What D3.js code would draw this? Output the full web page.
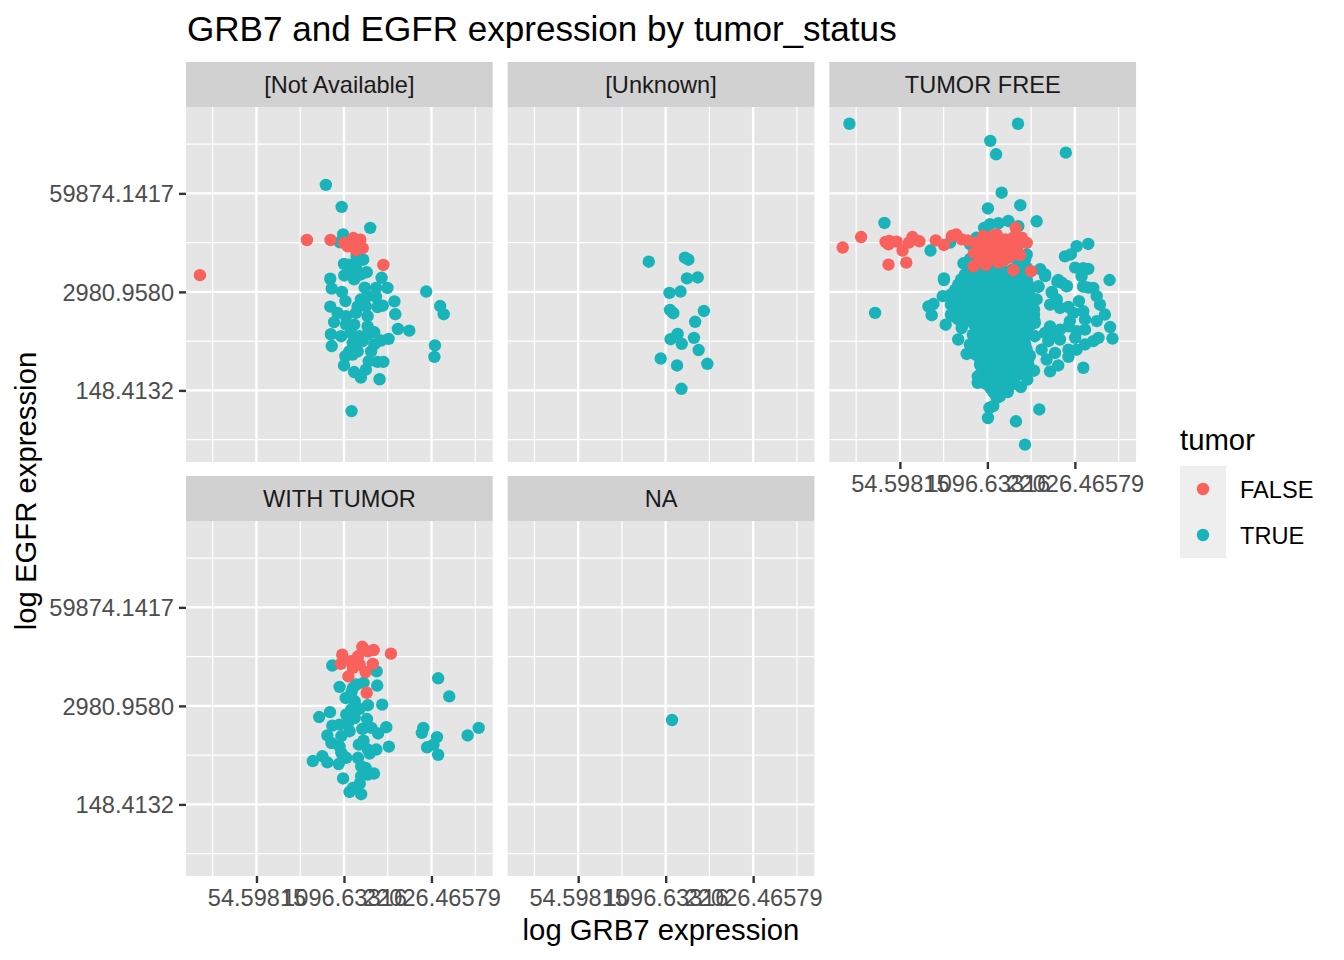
<!DOCTYPE html>
<html>
<head>
<meta charset="utf-8">
<script src="https://cdnjs.cloudflare.com/ajax/libs/d3/7.8.5/d3.min.js"></script>
<style>
  html, body { margin: 0; padding: 0; background: #fff; }
  text { font-family: "Liberation Sans", Arial, sans-serif; }
</style>
</head>
<body>
<div id="chart"></div>
<script>
// values are natural logs of the expression: [log GRB7, log EGFR]
const xTicks = [4, 7, 10];
const xTickLabels = ["54.59815", "1096.63316", "22026.46579"];
const xMinor = [2.5, 5.5, 8.5, 11.5];
const yTicks = [5, 8, 11];
const yTickLabels = ["148.4132", "2980.9580", "59874.1417"];
const yMinor = [3.5, 6.5, 9.5, 12.5];
const tumorLevels = ["FALSE", "TRUE"];

const notAvailableTrue = [[6.38,11.26],[6.92,10.59],[7.90,9.95],[6.97,9.75],[6.86,9.51],[7.66,8.98],[7.43,9.09],[7.00,8.85],[7.18,8.83],[7.41,8.73],[7.01,8.50],[7.24,8.58],[7.35,8.38],[7.58,8.53],[7.78,8.60],[8.29,8.43],[6.53,8.40],[6.58,8.10],[6.93,8.00],[7.71,8.13],[8.10,8.12],[8.49,8.12],[9.82,8.01],[10.30,7.57],[10.42,7.32],[8.73,7.71],[8.76,7.32],[8.85,6.87],[9.24,6.82],[10.12,6.37],[10.10,6.02],[6.53,7.55],[7.05,7.72],[6.78,7.36],[6.66,7.08],[7.58,7.77],[7.81,7.87],[8.10,7.85],[7.47,7.56],[7.75,7.56],[8.15,7.54],[8.33,7.58],[7.07,7.26],[7.41,7.36],[7.81,7.26],[7.35,7.00],[7.81,6.95],[7.07,7.00],[6.55,6.71],[6.90,6.65],[7.24,6.75],[7.53,6.65],[7.81,6.70],[8.04,6.77],[7.30,6.45],[7.64,6.50],[6.58,6.35],[8.53,6.57],[8.27,6.52],[8.04,6.40],[7.93,6.19],[7.18,6.19],[7.47,6.19],[7.05,6.04],[7.30,6.09],[7.85,5.89],[8.15,5.87],[8.35,5.87],[7.00,5.76],[7.35,5.56],[7.75,5.63],[7.58,5.39],[8.22,5.34],[7.26,4.37]];
const notAvailableFalse = [[2.06,8.51],[5.73,9.58],[6.54,9.58],[7.01,9.49],[7.13,9.39],[7.32,9.64],[7.56,9.59],[7.35,9.49],[7.41,9.27],[7.64,9.33],[7.47,9.39],[8.35,8.82]];

const unknownTrue = [[6.42,8.92],[7.66,9.04],[7.78,8.98],[7.73,8.41],[8.10,8.44],[7.13,7.97],[7.51,8.01],[7.15,7.45],[7.26,7.35],[8.31,7.42],[8.01,7.09],[7.41,6.72],[7.17,6.56],[7.55,6.42],[7.97,6.60],[8.13,6.23],[6.83,5.97],[7.39,5.76],[8.43,5.81],[7.54,5.05]];

const tumorFreeTrue = [
  [2.27,13.12],[8.05,13.12],[7.10,12.60],[7.30,12.19],[9.69,12.24],[7.49,11.02],[7.02,10.54],[8.13,10.64],[3.47,10.10],[8.69,10.15],[7.72,10.16],[7.38,10.09],[7.09,10.06],[6.89,9.95],[8.06,10.00],[5.05,9.26],[5.72,9.50],[5.51,8.36],[10.06,9.39],[10.46,9.46],[9.66,9.08],[9.86,9.14],[10.01,8.74],[10.29,8.72],[10.46,8.70],[10.23,8.48],[11.19,8.36],[8.81,8.69],[8.98,8.48],[9.40,8.31],[9.55,8.28],[9.72,8.18],[8.75,8.15],[9.21,7.97],[10.29,8.16],[8.35,9.14],[6.18,8.87],[6.12,8.25],[6.41,9.45],[6.63,9.65],[8.35,8.74],[6.23,8.53],[10.46,8.13],
  [6.40,9.00],[6.80,9.00],[7.20,9.00],[7.60,9.00],[8.00,9.00],[8.30,9.00],
  [6.45,8.68],[6.80,8.68],[7.15,8.68],[7.50,8.68],[7.85,8.68],[8.15,8.68],
  [6.30,8.53],[6.65,8.53],[7.00,8.53],[7.35,8.53],[7.70,8.53],[8.05,8.53],[8.30,8.53],
  [6.10,8.38],[6.45,8.38],[6.80,8.38],[7.15,8.38],[7.50,8.38],[7.85,8.38],[8.20,8.38],[8.35,8.38],
  [6.00,8.22],[6.30,8.22],[6.65,8.22],[7.00,8.22],[7.35,8.22],[7.70,8.22],[8.05,8.22],[8.40,8.22],
  [5.90,8.07],[6.25,8.07],[6.60,8.07],[6.95,8.07],[7.30,8.07],[7.65,8.07],[8.00,8.07],[8.40,8.07],
  [5.75,7.92],[6.10,7.92],[6.45,7.92],[6.80,7.92],[7.15,7.92],[7.50,7.92],[7.85,7.92],[8.20,7.92],[8.45,7.92],
  [5.85,7.77],[6.20,7.77],[6.55,7.77],[6.90,7.77],[7.25,7.77],[7.60,7.77],[7.95,7.77],[8.30,7.77],[8.55,7.77],
  [5.75,7.61],[6.05,7.61],[6.40,7.61],[6.75,7.61],[7.10,7.61],[7.45,7.61],[7.80,7.61],[8.15,7.61],[8.50,7.61],
  [5.90,7.46],[6.25,7.46],[6.60,7.46],[6.95,7.46],[7.30,7.46],[7.65,7.46],[8.00,7.46],[8.35,7.46],[8.60,7.46],
  [5.75,7.31],[6.10,7.31],[6.45,7.31],[6.80,7.31],[7.15,7.31],[7.50,7.31],[7.85,7.31],[8.20,7.31],[8.60,7.31],
  [6.00,7.16],[6.35,7.16],[6.70,7.16],[7.05,7.16],[7.40,7.16],[7.75,7.16],[8.10,7.16],[8.45,7.16],[8.60,7.16],
  [6.15,7.00],[6.55,7.00],[6.85,7.00],[7.20,7.00],[7.55,7.00],[7.90,7.00],[8.25,7.00],[8.50,7.00],
  [6.12,6.90],[6.70,6.85],[7.00,6.85],[7.35,6.85],[7.70,6.85],[8.05,6.85],[8.35,6.85],
  [6.50,6.70],[6.75,6.70],[7.10,6.70],[7.45,6.70],[7.80,6.70],[8.10,6.70],[8.35,6.70],
  [6.55,6.55],[6.90,6.55],[7.25,6.55],[7.60,6.55],[7.95,6.55],[8.25,6.55],
  [6.40,6.40],[6.70,6.40],[7.05,6.40],[7.40,6.40],[7.75,6.40],[8.10,6.40],[8.30,6.40],
  [6.55,6.24],[6.90,6.24],[7.25,6.24],[7.60,6.24],[7.95,6.24],[8.35,6.24],
  [6.60,6.09],[6.90,6.09],[7.25,6.09],[7.60,6.09],[7.95,6.09],[8.30,6.09],
  [6.75,5.94],[7.10,5.94],[7.45,5.94],[7.80,5.94],[8.15,5.94],[8.40,5.94],
  [6.75,5.78],[7.00,5.78],[7.35,5.78],[7.70,5.78],[8.05,5.78],[8.40,5.78],
  [6.85,5.63],[7.20,5.63],[7.55,5.63],[7.90,5.63],[8.25,5.63],
  [6.80,5.48],[7.05,5.48],[7.40,5.48],[7.75,5.48],[8.05,5.48],
  [6.67,5.23],[6.67,5.43],[6.90,5.33],[7.20,5.33],[7.55,5.33],[7.90,5.33],
  [6.95,5.20],[7.25,5.20],[7.60,5.20],[7.95,5.20],
  [7.10,5.08],[7.40,5.08],[7.70,5.08],[8.15,5.10],[8.37,5.33],[8.60,5.60],
  [7.20,4.95],[7.50,4.95],[7.70,4.95],
  [7.32,4.77],[7.43,4.82],[7.20,4.52],[7.07,4.47],[7.02,4.16],[7.98,4.06],[8.78,4.42],[8.29,3.35],
  [3.15,7.36],[5.51,8.41],[5.47,7.87],[5.15,7.63],[4.98,7.56],[5.09,7.29],[5.57,7.00],[5.83,7.26],[6.00,6.55],[6.29,6.11],[5.78,7.66],
  [8.98,8.53],[8.75,8.17],[9.43,8.36],[9.72,8.17],[9.21,8.00],[8.69,7.77],[9.38,7.77],[9.15,7.61],[9.49,7.51],[9.78,7.54],[10.14,7.72],[10.29,7.41],[9.95,7.36],[10.35,7.16],[9.83,7.11],[9.78,6.95],[9.15,6.95],[8.98,6.75],[9.49,6.85],[9.26,6.65],[10.35,6.85],[10.06,6.80],[10.01,6.60],[8.63,6.65],[9.49,6.55],[8.86,6.24],[9.09,6.50],[9.32,6.14],[9.78,6.24],[10.06,6.24],[9.78,6.02],[10.35,6.40],[10.63,6.50],[10.81,6.60],[11.29,6.58],[11.21,6.93],[10.75,7.11],[11.03,7.31],[10.86,7.61],[10.75,7.87],[10.63,8.12],[10.29,8.17],[9.03,5.94],[9.43,5.76],[9.15,5.58],[10.29,5.69],[8.46,6.06],[8.63,7.06]
];
const tumorFreeFalse = [[2.04,9.35],[2.67,9.67],[3.51,9.52],[3.64,9.55],[3.61,9.45],[3.89,9.53],[4.09,9.26],[4.31,9.50],[4.43,9.67],[4.67,9.54],[3.61,8.83],[4.22,8.89],[5.23,9.57],[5.51,9.43],[5.78,9.70],[5.93,9.75],[6.12,9.60],[6.33,9.57],[6.54,9.19],[6.52,8.78],[6.86,9.70],[6.71,9.35],[6.98,9.45],[6.94,8.82],[7.09,9.14],[7.32,9.75],[7.21,9.50],[7.38,8.89],[7.43,9.29],[7.61,9.60],[7.66,9.19],[7.89,9.65],[7.97,9.95],[8.18,9.65],[8.35,9.49],[8.12,9.12],[7.89,9.29],[7.78,9.45],[7.18,8.99],[7.89,8.66],[8.50,8.63],[6.81,9.04],[7.32,9.24],[6.69,9.19],[6.62,9.50],[6.90,9.25],[7.05,9.62],[7.50,9.45],[7.75,9.05],[8.05,9.42],[7.55,8.95],[7.20,9.72],[6.75,9.00]];

const withTumorTrue = [[6.60,9.23],[8.12,9.05],[8.14,8.62],[10.23,8.84],[10.61,8.29],[6.85,8.58],[7.31,8.55],[7.67,8.70],[7.42,8.65],[7.25,8.40],[7.06,8.24],[7.37,8.14],[8.31,8.04],[7.82,8.02],[7.54,7.91],[7.25,7.89],[6.52,7.81],[6.15,7.66],[7.08,7.74],[7.37,7.63],[7.79,7.60],[7.14,7.48],[6.60,7.40],[6.85,7.43],[7.63,7.30],[7.94,7.33],[8.45,7.35],[8.17,7.16],[7.19,7.23],[6.91,7.08],[6.43,7.10],[6.57,6.87],[7.67,6.94],[7.51,6.82],[6.85,6.77],[7.82,6.67],[8.11,6.67],[8.54,6.76],[6.91,6.57],[7.08,6.42],[7.48,6.42],[7.88,6.55],[6.26,6.47],[5.93,6.32],[6.43,6.28],[6.82,6.23],[7.59,6.16],[7.74,6.11],[8.03,5.94],[7.82,5.91],[7.59,5.86],[6.97,5.79],[7.54,5.63],[7.31,5.50],[7.19,5.38],[7.59,5.31],[9.72,7.33],[9.67,7.18],[10.19,7.05],[9.85,6.74],[10.23,6.51],[11.24,7.10],[11.62,7.33],[10.07,6.82]];
const withTumorFalse = [[8.61,9.59],[6.94,9.56],[7.63,9.80],[8.02,9.70],[7.82,9.66],[6.89,9.28],[7.25,9.36],[7.48,9.51],[7.54,9.26],[7.99,9.28],[7.74,9.03],[7.15,8.90],[7.31,9.16],[7.78,8.40]];

const naTrue = [[7.22,7.57]];

const panels = [
  { label: "[Not Available]", col: 0, row: 0, t: notAvailableTrue, f: notAvailableFalse, left: true, bottom: false },
  { label: "[Unknown]", col: 1, row: 0, t: unknownTrue, f: [], left: false, bottom: false },
  { label: "TUMOR FREE", col: 2, row: 0, t: tumorFreeTrue, f: tumorFreeFalse, left: false, bottom: true },
  { label: "WITH TUMOR", col: 0, row: 1, t: withTumorTrue, f: withTumorFalse, left: true, bottom: true },
  { label: "NA", col: 1, row: 1, t: naTrue, f: [], left: false, bottom: true }
];

const colLeft = [186, 507.7, 829.4];
const rowTop = [107, 521];
const panelW = 306.7, panelH = 355, stripH = 45;
const red = "#F8615C", teal = "#18B4BA";
const tickFont = 23.6, titleFont = 29.3, pointR = 6.2;

const svg = d3.select("#chart").append("svg")
  .attr("width", 1344).attr("height", 960)
  .style("display", "block");

const x = d3.scaleLinear().domain([1.583, 12.1]).range([0, panelW]);
const y = d3.scaleLinear().domain([2.82, 13.63]).range([panelH, 0]);

svg.append("text").attr("x", 187).attr("y", 41)
  .attr("font-size", 35.1).attr("fill", "#000")
  .text("GRB7 and EGFR expression by tumor_status");

panels.forEach(p => {
  const g = svg.append("g")
    .attr("transform", `translate(${colLeft[p.col]},${rowTop[p.row]})`);

  g.append("rect").attr("width", panelW).attr("height", panelH).attr("fill", "#E5E5E5");

  // grid
  g.selectAll(".minor-x").data(xMinor).enter().append("line")
    .attr("x1", d => x(d)).attr("x2", d => x(d)).attr("y1", 0).attr("y2", panelH)
    .attr("stroke", "#fff").attr("stroke-width", 1.2);
  g.selectAll(".minor-y").data(yMinor).enter().append("line")
    .attr("y1", d => y(d)).attr("y2", d => y(d)).attr("x1", 0).attr("x2", panelW)
    .attr("stroke", "#fff").attr("stroke-width", 1.2);
  g.selectAll(".major-x").data(xTicks).enter().append("line")
    .attr("x1", d => x(d)).attr("x2", d => x(d)).attr("y1", 0).attr("y2", panelH)
    .attr("stroke", "#fff").attr("stroke-width", 2.4);
  g.selectAll(".major-y").data(yTicks).enter().append("line")
    .attr("y1", d => y(d)).attr("y2", d => y(d)).attr("x1", 0).attr("x2", panelW)
    .attr("stroke", "#fff").attr("stroke-width", 2.4);

  // strip
  g.append("rect").attr("y", -stripH).attr("width", panelW).attr("height", stripH).attr("fill", "#D1D1D1");
  g.append("text").attr("x", panelW / 2).attr("y", -14.5)
    .attr("text-anchor", "middle").attr("font-size", tickFont).attr("fill", "#1A1A1A")
    .text(p.label);

  // points
  g.selectAll(".pt").data(p.t).enter().append("circle")
    .attr("cx", d => x(d[0])).attr("cy", d => y(d[1])).attr("r", pointR).attr("fill", teal);
  g.selectAll(".pf").data(p.f).enter().append("circle")
    .attr("cx", d => x(d[0])).attr("cy", d => y(d[1])).attr("r", pointR).attr("fill", red);

  // axes
  if (p.bottom) {
    const ax = g.append("g").attr("transform", `translate(0,${panelH})`)
      .call(d3.axisBottom(x).tickValues(xTicks).tickFormat((d, i) => xTickLabels[i]).tickSize(7).tickPadding(6));
    ax.select(".domain").remove();
    ax.selectAll("line").attr("stroke", "#333").attr("stroke-width", 2.4);
    ax.selectAll("text").attr("font-size", tickFont).attr("fill", "#4D4D4D")
      .style("font-family", '"Liberation Sans", Arial, sans-serif');
  }
  if (p.left) {
    const ay = g.append("g")
      .call(d3.axisLeft(y).tickValues(yTicks).tickFormat((d, i) => yTickLabels[i]).tickSize(7).tickPadding(5));
    ay.select(".domain").remove();
    ay.selectAll("line").attr("stroke", "#333").attr("stroke-width", 2.4);
    ay.selectAll("text").attr("font-size", tickFont).attr("fill", "#4D4D4D").attr("dy", "0.36em")
      .style("font-family", '"Liberation Sans", Arial, sans-serif');
  }
});

// axis titles
svg.append("text").attr("x", 661).attr("y", 940)
  .attr("text-anchor", "middle").attr("font-size", titleFont).attr("fill", "#000")
  .text("log GRB7 expression");
svg.append("text").attr("transform", "translate(36,491) rotate(-90)")
  .attr("text-anchor", "middle").attr("font-size", titleFont).attr("fill", "#000")
  .text("log EGFR expression");

// legend
const legend = svg.append("g").attr("transform", "translate(1180,466)");
legend.append("text").attr("y", -16).attr("font-size", titleFont).attr("fill", "#000").text("tumor");
tumorLevels.forEach((lvl, i) => {
  legend.append("rect").attr("y", i * 46).attr("width", 46).attr("height", 46).attr("fill", "#EEEEEE");
  legend.append("circle").attr("cx", 23).attr("cy", i * 46 + 23).attr("r", pointR)
    .attr("fill", lvl === "FALSE" ? red : teal);
  legend.append("text").attr("x", 60).attr("y", i * 46 + 31.5)
    .attr("font-size", tickFont).attr("fill", "#000").text(lvl);
});
</script>
</body>
</html>
